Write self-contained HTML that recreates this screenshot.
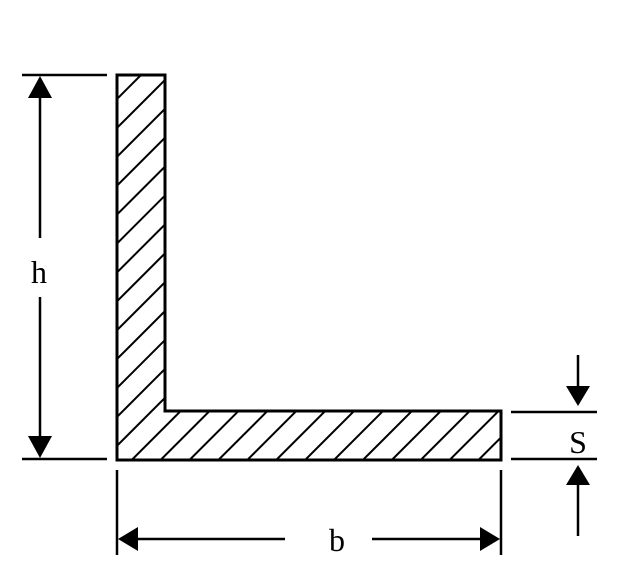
<!DOCTYPE html>
<html><head><style>html,body{margin:0;padding:0;background:#fff;width:640px;height:581px;overflow:hidden;}svg{display:block}</style></head>
<body>
<svg width="640" height="581" viewBox="0 0 640 581" xmlns="http://www.w3.org/2000/svg">
<defs>
<clipPath id="c"><polygon points="117,75 165,75 165,411 501,411 501,460 117,460"/></clipPath>
</defs>
<g clip-path="url(#c)" stroke="#000" stroke-width="2">
<line x1="117" y1="99" x2="141" y2="75"/>
<line x1="117" y1="127.9" x2="169.9" y2="75"/>
<line x1="117" y1="156.8" x2="198.8" y2="75"/>
<line x1="117" y1="185.7" x2="227.7" y2="75"/>
<line x1="117" y1="214.6" x2="256.6" y2="75"/>
<line x1="117" y1="243.5" x2="285.5" y2="75"/>
<line x1="117" y1="272.4" x2="314.4" y2="75"/>
<line x1="117" y1="301.3" x2="343.3" y2="75"/>
<line x1="117" y1="330.2" x2="372.2" y2="75"/>
<line x1="117" y1="359.1" x2="401.1" y2="75"/>
<line x1="117" y1="388" x2="430" y2="75"/>
<line x1="117" y1="416.9" x2="458.9" y2="75"/>
<line x1="117" y1="445.8" x2="487.8" y2="75"/>
<line x1="131.7" y1="460" x2="501" y2="90.7"/>
<line x1="160.6" y1="460" x2="501" y2="119.6"/>
<line x1="189.5" y1="460" x2="501" y2="148.5"/>
<line x1="218.4" y1="460" x2="501" y2="177.4"/>
<line x1="247.3" y1="460" x2="501" y2="206.3"/>
<line x1="276.2" y1="460" x2="501" y2="235.2"/>
<line x1="305.1" y1="460" x2="501" y2="264.1"/>
<line x1="334" y1="460" x2="501" y2="293"/>
<line x1="362.9" y1="460" x2="501" y2="321.9"/>
<line x1="391.8" y1="460" x2="501" y2="350.8"/>
<line x1="420.7" y1="460" x2="501" y2="379.7"/>
<line x1="449.6" y1="460" x2="501" y2="408.6"/>
<line x1="478.5" y1="460" x2="501" y2="437.5"/>
</g>
<polygon points="117,75 165,75 165,411 501,411 501,460 117,460" fill="none" stroke="#000" stroke-width="3"/>
<g stroke="#000" stroke-width="2.5" fill="none">
<line x1="22" y1="75" x2="107" y2="75"/>
<line x1="22" y1="459" x2="107" y2="459"/>
<line x1="40" y1="95" x2="40" y2="238"/>
<line x1="40" y1="297" x2="40" y2="440"/>
<line x1="117" y1="470" x2="117" y2="555"/>
<line x1="501" y1="470" x2="501" y2="555"/>
<line x1="137" y1="539" x2="285" y2="539"/>
<line x1="372" y1="539" x2="481" y2="539"/>
<line x1="511" y1="412" x2="597" y2="412"/>
<line x1="511" y1="459" x2="597" y2="459"/>
<line x1="578" y1="355" x2="578" y2="390"/>
<line x1="578" y1="482" x2="578" y2="536"/>
</g>
<g fill="#000">
<polygon points="40,76 28,98 52,98"/>
<polygon points="40,458 28,436 52,436"/>
<polygon points="118,539 138,527 138,551"/>
<polygon points="500,539 480,527 480,551"/>
<polygon points="578,406 566,386 590,386"/>
<polygon points="578,465 566,485 590,485"/>
</g>
<g font-family="'Liberation Serif', serif" font-size="32" fill="#000" text-anchor="middle">
<text x="39" y="283">h</text>
<text x="337" y="551">b</text>
<text x="578" y="453">S</text>
</g>
</svg>
</body></html>
